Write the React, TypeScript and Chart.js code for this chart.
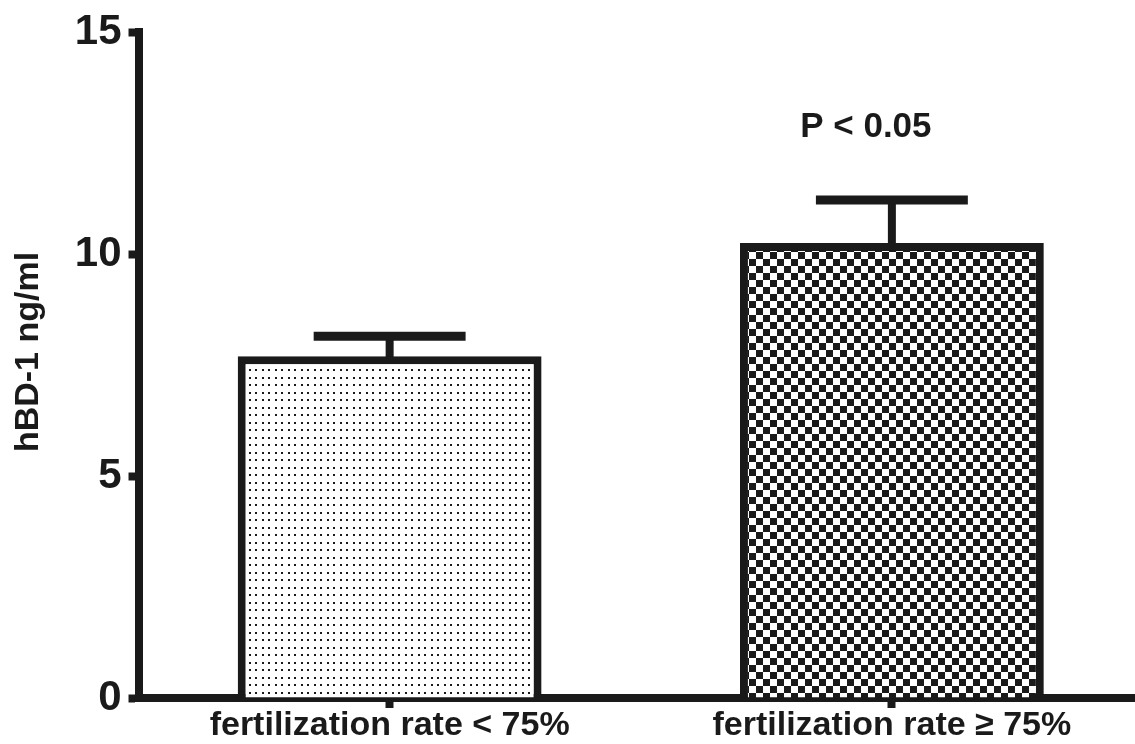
import React, { useEffect, useRef } from "react";
import { Chart, registerables } from "chart.js";

Chart.register(...registerables);

const categories = ["fertilization rate < 75%", "fertilization rate \u2265 75%"];
const means = [7.7, 10.25];
const sem = [0.45, 0.97];
const yMin = 0;
const yMax = 15;
const yStep = 5;
const yTitle = "hBD-1 ng/ml";
const pLabel = "P < 0.05";
const pLabelValue = 12.65;

const INK = "#1a1a1a";
const FONT = '"Liberation Sans", Arial, Helvetica, sans-serif';

function dotPattern(ctx: CanvasRenderingContext2D) {
  const c = document.createElement("canvas");
  c.width = 13;
  c.height = 15;
  const g = c.getContext("2d")!;
  g.fillStyle = "#ffffff";
  g.fillRect(0, 0, 13, 15);
  g.fillStyle = INK;
  for (const x of [2, 8]) for (const y of [2, 9]) g.fillRect(x, y, 2, 2);
  return ctx.createPattern(c, "repeat")!;
}

function checkerPattern(ctx: CanvasRenderingContext2D) {
  const c = document.createElement("canvas");
  c.width = 14;
  c.height = 14;
  const g = c.getContext("2d")!;
  g.fillStyle = "#ffffff";
  g.fillRect(0, 0, 14, 14);
  g.fillStyle = INK;
  g.fillRect(0, 0, 7, 7);
  g.fillRect(7, 7, 7, 7);
  return ctx.createPattern(c, "repeat")!;
}

const errorBarPlugin = {
  id: "errorBars",
  beforeDatasetsDraw(chart: any) {
    const ctx = chart.ctx;
    const yScale = chart.scales.y;
    const meta = chart.getDatasetMeta(0);
    ctx.save();
    ctx.strokeStyle = INK;
    meta.data.forEach((bar: any, i: number) => {
      const top = yScale.getPixelForValue(means[i] + sem[i]);
      const half = bar.width * 0.25;
      ctx.lineWidth = 8;
      ctx.lineCap = "butt";
      ctx.beginPath();
      ctx.moveTo(bar.x, bar.y + 6);
      ctx.lineTo(bar.x, top);
      ctx.stroke();
      ctx.lineWidth = 9;
      ctx.beginPath();
      ctx.moveTo(bar.x - half, top);
      ctx.lineTo(bar.x + half, top);
      ctx.stroke();
    });
    ctx.restore();
  },
  afterDraw(chart: any) {
    const ctx = chart.ctx;
    const x = chart.scales.x.getPixelForValue(1) - 26;
    const y = chart.scales.y.getPixelForValue(pLabelValue);
    ctx.save();
    ctx.fillStyle = INK;
    ctx.font = `bold 35px ${FONT}`;
    ctx.textAlign = "center";
    ctx.textBaseline = "alphabetic";
    ctx.fillText(pLabel, x, y);
    // y-axis title
    ctx.font = `bold 34px ${FONT}`;
    ctx.translate(38, 352);
    ctx.rotate(-Math.PI / 2);
    ctx.textBaseline = "alphabetic";
    ctx.fillText(yTitle, 0, 0);
    ctx.restore();
  },
};

export default function App() {
  const ref = useRef<HTMLCanvasElement>(null);
  useEffect(() => {
    const canvas = ref.current!;
    const ctx = canvas.getContext("2d")!;
    const chart = new Chart(canvas, {
      type: "bar",
      data: {
        labels: categories,
        datasets: [
          {
            data: means,
            backgroundColor: [dotPattern(ctx), checkerPattern(ctx)],
            borderColor: INK,
            borderWidth: 8,
            borderSkipped: "start",
            barPercentage: 1,
            categoryPercentage: 0.605,
          },
        ],
      },
      options: {
        responsive: false,
        animation: false,
        devicePixelRatio: 1,
        layout: { padding: { top: 32, right: 7, left: 0, bottom: 0 } },
        plugins: { legend: { display: false }, tooltip: { enabled: false } },
        scales: {
          x: {
            grid: {
              offset: false,
              drawOnChartArea: false,
              tickLength: 10,
              tickWidth: 8,
              tickColor: INK,
            },
            border: { color: INK, width: 8 },
            ticks: {
              color: INK,
              padding: 1,
              font: { family: FONT, size: 34, weight: "bold", lineHeight: 1 },
            },
          },
          y: {
            min: yMin,
            max: yMax,
            grid: {
              drawOnChartArea: false,
              tickLength: 10,
              tickWidth: 8,
              tickColor: INK,
            },
            border: { color: INK, width: 8 },
            ticks: {
              stepSize: yStep,
              color: INK,
              padding: 7,
              font: { family: FONT, size: 42, weight: "bold" },
            },
            title: {
              display: true,
              text: " ",
              color: "rgba(0,0,0,0)",
              padding: { top: 6, bottom: 21 },
              font: { family: FONT, size: 34, weight: "bold" },
            },
          },
        },
      },
      plugins: [errorBarPlugin],
    });
    return () => chart.destroy();
  }, []);
  return (
    <div
      style={{
        position: "fixed",
        left: 0,
        top: 0,
        width: 1135,
        height: 744,
        overflow: "hidden",
        background: "#fff",
      }}
    >
      <canvas ref={ref} width={1150} height={744} style={{ display: "block" }} />
    </div>
  );
}
